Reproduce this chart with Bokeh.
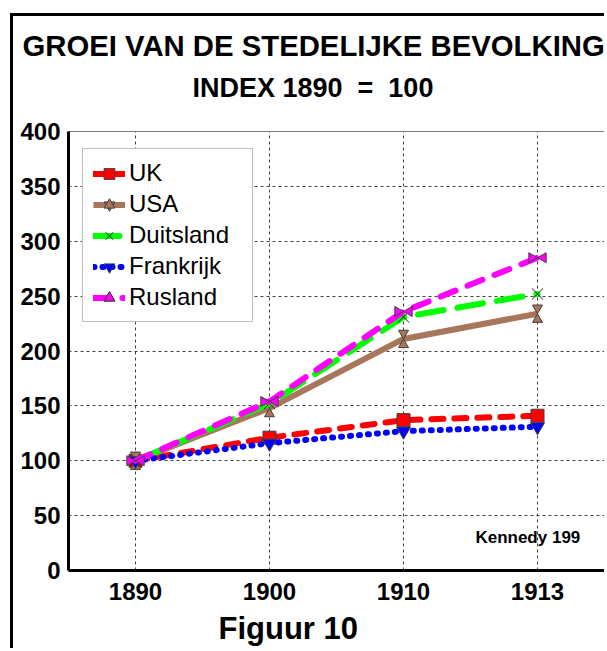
import math
from bokeh.plotting import figure
from bokeh.models import (Range1d, FactorRange, FixedTicker, Label, Legend,
                          LegendItem, ColumnDataSource, Title)
from bokeh.transform import dodge
from bokeh.embed import file_html
from bokeh.resources import INLINE

# ---------------- data ----------------
years = ["1890", "1900", "1910", "1913"]
uk = [100, 121, 137, 141]
usa = [100, 148, 211, 234]
duitsland = [100, 152, 231, 252]
frankrijk = [100, 116, 127, 131]
rusland = [100, 154, 236, 285]
y_ticks = [0, 50, 100, 150, 200, 250, 300, 350, 400]

title_text = "GROEI VAN DE STEDELIJKE BEVOLKING"
subtitle_text = "INDEX 1890\u00a0 =\u00a0 100"
caption_text = "Figuur 10"
source_text = "Kennedy 199"

src = ColumnDataSource(dict(year=years, uk=uk, usa=usa, duitsland=duitsland,
                            frankrijk=frankrijk, rusland=rusland))

# ---------------- figure ----------------
W, H = 594, 635
ML, MR, MT, MB = 55, 3, 115, 81
p = figure(width=W, height=H, x_range=FactorRange(*years), y_range=Range1d(0, 400),
           output_backend="svg", toolbar_location=None,
           min_border_left=ML, min_border_right=MR, min_border_top=MT, min_border_bottom=MB,
           background_fill_color="white", border_fill_color="white")
p.styles = {"margin-left": "10px", "margin-top": "13px",
            "border-left": "3px solid black", "border-top": "3px solid black"}
p.outline_line_color = "#808080"
p.outline_line_width = 1

frame_w = W - ML - MR
frame_h = H - MT - MB

FONT = "Liberation Sans"
OUT = "#404040"
RED, BROWN, GREEN, BLUE, MAG = "#FF0000", "#A8765A", "#00FF00", "#0000FF", "#FF00FF"

for ax in (p.xaxis, p.yaxis):
    ax.axis_line_color = "black"
    ax.axis_line_width = 3
    ax.major_tick_in = 0
    ax.major_tick_out = 0
    ax.minor_tick_in = 0
    ax.minor_tick_out = 0
    ax.major_label_text_font = FONT
    ax.major_label_text_font_size = "24px"
    ax.major_label_text_font_style = "bold"
    ax.major_label_text_color = "black"
p.xaxis.major_label_standoff = 12
p.yaxis.major_label_standoff = 8
p.yaxis.ticker = FixedTicker(ticks=y_ticks)
p.grid.grid_line_color = "#404040"
p.grid.grid_line_dash = "3 3"
p.grid.grid_line_width = 1

# titles: subtitle next to the frame (top-aligned, gap below), main title above it
p.add_layout(Title(text=subtitle_text, align="left", offset=124, standoff=54,
                   vertical_align="top", text_font=FONT, text_font_size="27px",
                   text_font_style="bold", text_color="black"), "above")
p.add_layout(Title(text=title_text, align="left", offset=-46, standoff=-33.8,
                   vertical_align="bottom", text_font=FONT, text_font_size="29.3px",
                   text_font_style="bold", text_color="black"), "above")
p.add_layout(Title(text=caption_text, align="left", offset=150, standoff=12,
                   vertical_align="bottom", text_font=FONT, text_font_size="31px",
                   text_font_style="bold", text_color="black"), "below")

# triangle geometry for composite markers (hourglass / bowtie)
TRI = 10
off_px = (TRI / 2) * math.sqrt(3) * 2 / 3
off_y = off_px * 400 / frame_h
off_x = off_px / (frame_w / len(years))

# UK
uk_line = p.line("year", "uk", source=src, line_color=RED, line_width=6,
                 line_dash="12 11", line_cap="round")
uk_mk = p.scatter("year", "uk", source=src, marker="square", size=13,
                  fill_color=RED, line_color=OUT)
# USA
usa_line = p.line("year", "usa", source=src, line_color=BROWN, line_width=6)
usa_top = p.scatter(x="year", y=dodge("usa", off_y, range=p.y_range), source=src,
                    marker="inverted_triangle", size=TRI, fill_color=BROWN, line_color=OUT)
usa_bot = p.scatter(x="year", y=dodge("usa", -off_y, range=p.y_range), source=src,
                    marker="triangle", size=TRI, fill_color=BROWN, line_color=OUT)
# Duitsland
de_line = p.line("year", "duitsland", source=src, line_color=GREEN, line_width=6,
                 line_dash="26 14", line_cap="round")
de_mk = p.scatter("year", "duitsland", source=src, marker="x", size=16,
                  line_color="#202020", line_width=1)
# Frankrijk
fr_line = p.line("year", "frankrijk", source=src, line_color=BLUE, line_width=6,
                 line_dash="1 8", line_cap="round")
fr_mk = p.scatter("year", "frankrijk", source=src, marker="inverted_triangle", size=14,
                  fill_color=BLUE, line_color=OUT)
# Rusland
ru_line = p.line("year", "rusland", source=src, line_color=MAG, line_width=6,
                 line_dash="16 13", line_cap="round")
ru_left = p.scatter(x=dodge("year", -off_x, range=p.x_range), y="rusland", source=src,
                    marker="triangle", angle=-math.pi / 2, size=TRI,
                    fill_color=MAG, line_color=OUT)
ru_right = p.scatter(x=dodge("year", off_x, range=p.x_range), y="rusland", source=src,
                     marker="triangle", angle=math.pi / 2, size=TRI,
                     fill_color=MAG, line_color=OUT)

legend = Legend(items=[
    LegendItem(label="UK", renderers=[uk_line, uk_mk]),
    LegendItem(label="USA", renderers=[usa_line, usa_top, usa_bot]),
    LegendItem(label="Duitsland", renderers=[de_line, de_mk]),
    LegendItem(label="Frankrijk", renderers=[fr_line, fr_mk]),
    LegendItem(label="Rusland", renderers=[ru_line, ru_left, ru_right]),
], location=(14, 248), glyph_width=32, glyph_height=27, label_height=27,
    label_width=113, label_standoff=4, padding=10, spacing=3, margin=0,
    label_text_font=FONT, label_text_font_size="24px", label_text_color="black",
    border_line_color="#808080", border_line_width=1,
    background_fill_color="white", background_fill_alpha=1)
p.add_layout(legend, "center")

p.add_layout(Label(x=3.428, y=30.1, text=source_text, text_font=FONT,
                   text_font_size="17px", text_font_style="bold", text_align="center",
                   text_baseline="alphabetic", text_color="black"))

open("out.html", "w").write(file_html(p, INLINE))
